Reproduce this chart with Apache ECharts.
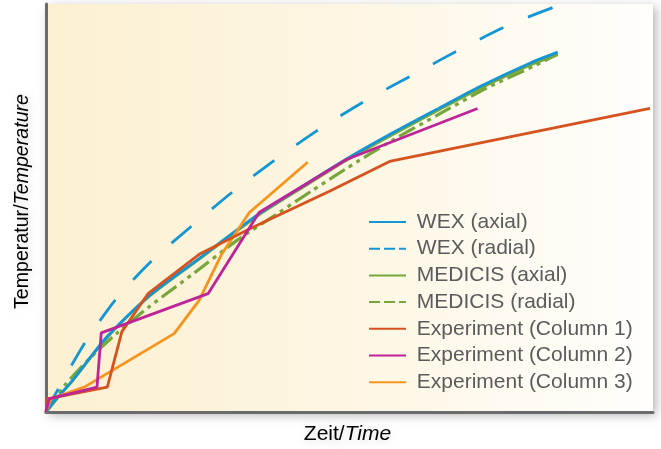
<!DOCTYPE html>
<html>
<head>
<meta charset="utf-8">
<script src="https://cdn.jsdelivr.net/npm/echarts@6/dist/echarts.min.js"></script>
<style>
html,body{margin:0;padding:0;background:#ffffff;}
#chart{width:661px;height:449px;}
</style>
</head>
<body>
<div id="chart"></div>
<script>
// Series names (legend order)
var seriesNames = ['WEX (axial)', 'WEX (radial)', 'MEDICIS (axial)', 'MEDICIS (radial)',
  'Experiment (Column 1)', 'Experiment (Column 2)', 'Experiment (Column 3)'];

// Values (relative units 0-100 on both axes)
var wexAxialX = [0, 2.1, 4.3, 9.9, 17.0, 25.2, 35.1, 41.7, 49.5, 56.6, 64.9, 71.5, 79.7, 84.3];
var wexAxialY = [0, 3.9, 7.6, 18.2, 28.5, 37.6, 48.6, 54.8, 62.0, 68.0, 74.6, 79.8, 85.5, 88.2];

var wexRadialX = [0, 2.1, 6.6, 11.7, 17.8, 24.1, 31.2, 38.3, 45.5, 53.1, 60.9, 68.6, 76.6, 84.7];
var wexRadialY = [0, 5.9, 17.4, 28.0, 37.6, 45.7, 54.5, 62.4, 69.8, 76.7, 83.0, 89.2, 95.1, 99.8];

var medAxialX = [0, 2.1, 4.3, 9.9, 17.0, 25.2, 35.1, 41.7, 49.5, 56.6, 64.9, 71.5, 79.7, 84.3];
var medAxialY = [0, 3.8, 7.5, 18.0, 28.3, 37.4, 48.3, 54.5, 61.7, 67.6, 74.2, 79.3, 85.0, 87.6];

var medRadialX = [0, 3.0, 7.1, 11.6, 17.0, 24.1, 31.4, 38.4, 43.9, 49.5, 57.1, 64.4, 72.6, 80.7, 84.3];
var medRadialY = [0, 6.4, 13.0, 19.2, 25.8, 33.7, 42.0, 48.9, 54.3, 59.7, 66.6, 72.7, 79.4, 85.0, 87.7];

var exp1X = [0, 0.2, 10.1, 12.5, 16.8, 25.4, 34.0, 46.7, 56.6, 99.5];
var exp1Y = [0, 3.2, 6.1, 19.7, 29.0, 38.8, 45.2, 54.1, 61.4, 74.4];

var exp2X = [0, 0.5, 8.4, 9.1, 26.7, 35.1, 49.5, 71.1];
var exp2Y = [0, 3.2, 6.1, 19.4, 29.0, 48.9, 61.9, 74.4];

var exp3X = [0, 0.8, 6.3, 21.1, 25.2, 28.9, 33.5, 43.1];
var exp3Y = [0, 3.2, 6.1, 19.2, 27.3, 38.6, 48.9, 61.2];

var xTitle = ['Zeit/', 'Time'];
var yTitle = ['Temperatur/', 'Temperature'];

function pairs(xs, ys) {
  return xs.map(function (x, i) { return [x, ys[i]]; });
}

var BLUE = '#1596d4', GREEN = '#77a73a', RED = '#d6521f', MAGENTA = '#be2398', ORANGE = '#f7941e';
var TEXT = '#5a5b5d', AXIS = '#6a6b6d';
var LW = 2.8;

function lineSeries(name, data, color, type, z, smooth, width) {
  return {
    name: name, type: 'line', data: data, symbol: 'none', showSymbol: false, z: z,
    smooth: smooth || false,
    lineStyle: { color: color, width: width || LW, type: type || 'solid', cap: 'butt' },
    itemStyle: { color: color },
    emphasis: { disabled: true }, animation: false
  };
}

var chart = echarts.init(document.getElementById('chart'), null, { renderer: 'canvas' });

var axisCommon = {
  type: 'value', min: 0, max: 100,
  axisLine: { show: true, lineStyle: { color: AXIS, width: 3 } },
  axisTick: { show: false }, axisLabel: { show: false }, splitLine: { show: false }
};

var titleRich = {
  a: { fontFamily: 'Liberation Sans', fontSize: 21, color: TEXT },
  b: { fontFamily: 'Liberation Sans', fontSize: 21, color: TEXT, fontStyle: 'italic' }
};
var titleRichY = {
  a: { fontFamily: 'Liberation Sans', fontSize: 19.6, color: TEXT },
  b: { fontFamily: 'Liberation Sans', fontSize: 19.6, color: TEXT, fontStyle: 'italic' }
};

chart.setOption({
  animation: false,
  backgroundColor: '#ffffff',
  grid: {
    left: 46, top: 4, right: 8, bottom: 37,
    show: true, borderWidth: 0,
    backgroundColor: {
      type: 'linear', x: 0, y: 0, x2: 1, y2: 0,
      colorStops: [
        { offset: 0, color: '#fcf0d1' },
        { offset: 0.5, color: '#fdf6e3' },
        { offset: 1, color: '#fffefc' }
      ]
    },
    shadowBlur: 10, shadowColor: 'rgba(0,0,0,0.3)', shadowOffsetX: 3, shadowOffsetY: 3
  },
  xAxis: axisCommon,
  yAxis: axisCommon,
  legend: {
    orient: 'vertical', left: 368, top: 211.5, padding: 0,
    itemWidth: 37, itemHeight: 14, itemGap: 5.7,
    formatter: function (n) { return ' ' + n; },
    textStyle: { fontFamily: 'Liberation Sans', fontSize: 21, color: TEXT, lineHeight: 21 },
    itemStyle: { opacity: 0, borderWidth: 0 },
    selectedMode: false,
    data: [
      { name: seriesNames[0] },
      { name: seriesNames[1], lineStyle: { type: [11, 4] } },
      { name: seriesNames[2] },
      { name: seriesNames[3], lineStyle: { type: [11, 4] } },
      { name: seriesNames[4] },
      { name: seriesNames[5] },
      { name: seriesNames[6] }
    ]
  },
  graphic: [
    {
      type: 'text', x: 347.5, y: 434.5, silent: true,
      style: {
        text: '{a|' + xTitle[0] + '}{b|' + xTitle[1] + '}',
        rich: titleRich, align: 'center', verticalAlign: 'middle',
        textShadowColor: 'rgba(0,0,0,0.12)', textShadowBlur: 6, textShadowOffsetY: 2
      }
    },
    {
      type: 'text', x: 23, y: 201.5, rotation: Math.PI / 2, silent: true,
      style: {
        text: '{a|' + yTitle[0] + '}{b|' + yTitle[1] + '}',
        rich: titleRichY, align: 'center', verticalAlign: 'middle',
        textShadowColor: 'rgba(0,0,0,0.12)', textShadowBlur: 6, textShadowOffsetX: 2
      }
    }
  ],
  series: [
    lineSeries(seriesNames[0], pairs(wexAxialX, wexAxialY), BLUE, 'solid', 4, 0.25),
    lineSeries(seriesNames[1], pairs(wexRadialX, wexRadialY), BLUE, [26, 27], 4, 0.25),
    lineSeries(seriesNames[2], pairs(medAxialX, medAxialY), GREEN, 'solid', 2, 0.25),
    lineSeries(seriesNames[3], pairs(medRadialX, medRadialY), GREEN, [18, 5, 4, 5, 4, 5], 3, 0.25, 3.2),
    lineSeries(seriesNames[4], pairs(exp1X, exp1Y), RED, 'solid', 6),
    lineSeries(seriesNames[5], pairs(exp2X, exp2Y), MAGENTA, 'solid', 7),
    lineSeries(seriesNames[6], pairs(exp3X, exp3Y), ORANGE, 'solid', 5)
  ]
});
</script>
</body>
</html>
